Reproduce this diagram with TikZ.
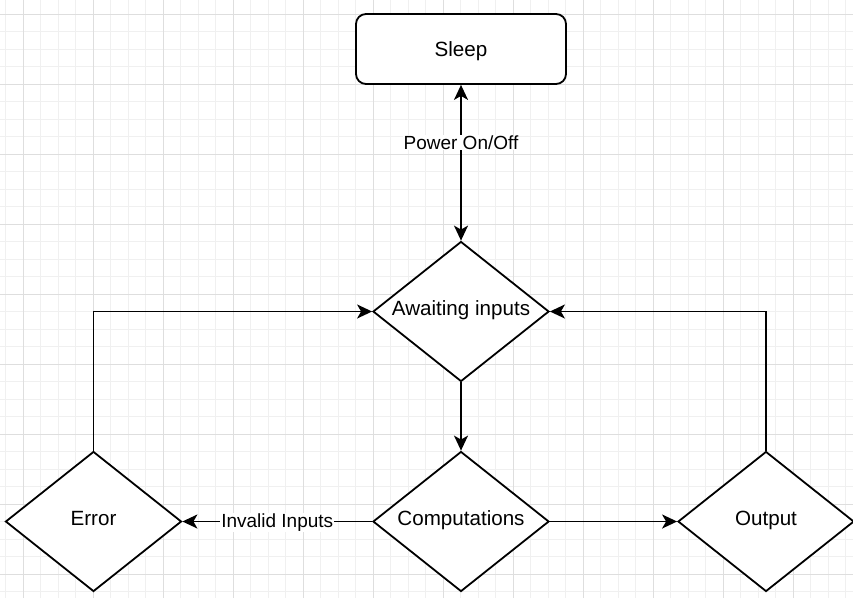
\documentclass[tikz,border=0pt]{standalone}
\usepackage{fontspec}
\setmainfont{Liberation Sans}
\usetikzlibrary{shapes.geometric,arrows.meta}
\begin{document}
\begin{tikzpicture}[x=1pt,y=-1pt,
  every node/.style={font=\fontsize{20.6}{24}\selectfont, text=black},
  shapeline/.style={draw=black, line width=1.8pt, fill=white, text height=14pt, text depth=6pt},
  diam/.style={shapeline, diamond, aspect=1.257, minimum width=176pt, minimum height=140pt, inner sep=0pt},
  roundbox/.style={shapeline, text depth=0pt, rectangle, rounded corners=10pt, minimum width=210pt, minimum height=70pt, inner sep=0pt},
  conn/.style={draw=black, line width=1.8pt, -{Stealth[length=15pt,width=14pt,inset=4pt]}},
  biconn/.style={draw=black, line width=1.8pt, {Stealth[length=15pt,width=14pt,inset=4pt]}-{Stealth[length=15pt,width=14pt,inset=4pt]}},
  lbl/.style={font=\fontsize{19}{22}\selectfont, fill=white, inner sep=1pt},
  minorgrid/.style={draw={rgb,255:red,240;green,240;blue,240}, line width=0.8pt},
  majorgrid/.style={draw={rgb,255:red,222;green,222;blue,222}, line width=0.8pt}
]
\useasboundingbox (0,0) rectangle (853,598);
\fill[white] (0,0) rectangle (853,598);
% grid
\foreach \i in {-1,...,49} {
  \draw[minorgrid] ({23+17.5*\i},0) -- ({23+17.5*\i},598);
}
\foreach \j in {-1,...,34} {
  \draw[minorgrid] (0,{14.3+17.5*\j}) -- (853,{14.3+17.5*\j});
}
\foreach \i in {0,...,12} {
  \draw[majorgrid] ({23+70*\i},0) -- ({23+70*\i},598);
}
\foreach \j in {0,...,8} {
  \draw[majorgrid] (0,{14.3+70*\j}) -- (853,{14.3+70*\j});
}
% nodes
\node[roundbox] (sleep) at (461,49) {Sleep};
\node[diam] (await) at (461,311.5) {Awaiting inputs};
\node[diam] (comp) at (461,521.5) {Computations};
\node[diam] (error) at (93.5,521.5) {Error};
\node[diam] (output) at (766,521.5) {Output};
% connectors
\draw[biconn] (sleep) -- (await) node[lbl, pos=0.37] {Power On/Off};
\draw[conn] (await) -- (comp);
\draw[conn] (comp) -- (error) node[lbl, midway, yshift=-1pt] {Invalid Inputs};
\draw[conn] (comp) -- (output);
\draw[conn] (error.north) |- (await.west);
\draw[conn] (output.north) |- (await.east);
\end{tikzpicture}
\end{document}
